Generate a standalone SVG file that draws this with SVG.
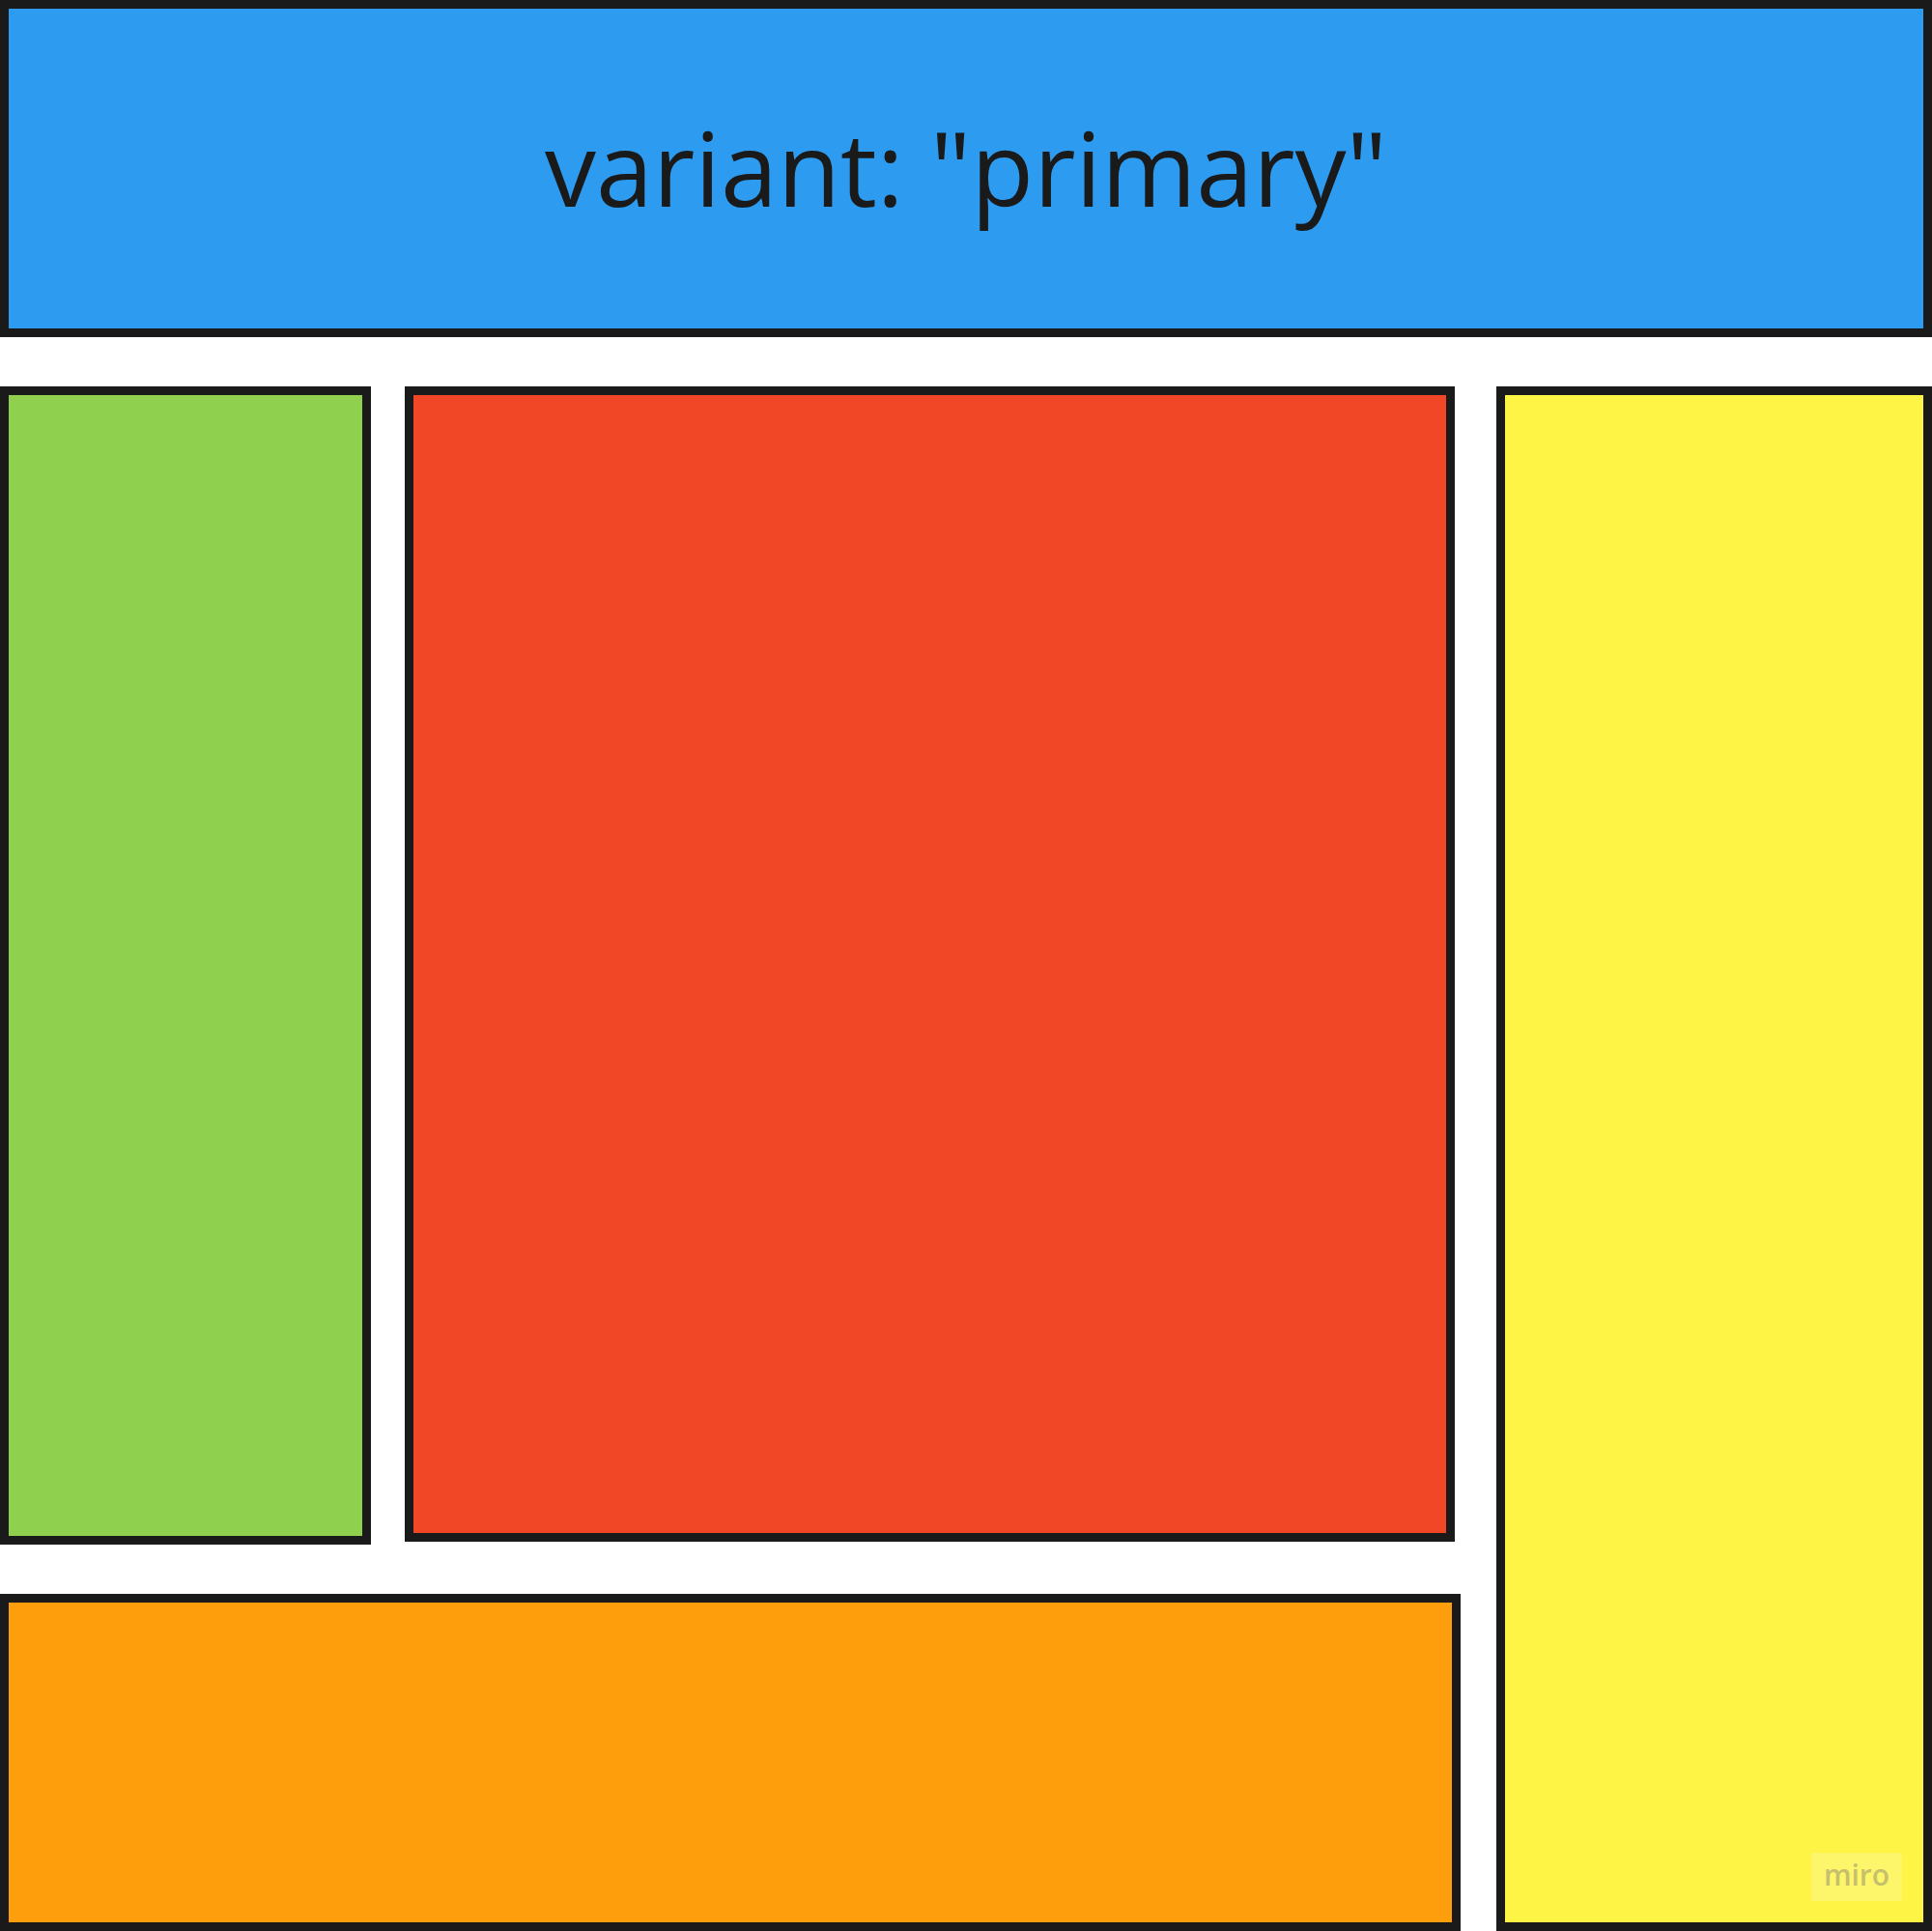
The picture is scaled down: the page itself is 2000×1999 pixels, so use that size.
<svg xmlns="http://www.w3.org/2000/svg" width="2000" height="1999" viewBox="0 0 2000 1999">
<style>
.box{stroke:#1a1a1a;stroke-width:9}
.label{font-family:"Open Sans","Noto Sans","Liberation Sans",sans-serif;font-size:106px;fill:#1a1a1a}
.logo{font-family:"Open Sans","Liberation Sans",sans-serif;font-weight:600;font-size:30px;fill:#c6bf6c}
</style>
<rect width="2000" height="1999" fill="#ffffff"/>
<g id="header">
<rect class="box" x="4.5" y="4.5" width="1991" height="340" fill="#2d9bf0"/>
<text class="label" x="1000" y="214" text-anchor="middle">variant: "primary"</text>
</g>
<g id="left">
<rect class="box" x="4.5" y="404.5" width="375" height="1190" fill="#8fd14f"/>
</g>
<g id="main">
<rect class="box" x="423.5" y="404.5" width="1078" height="1187" fill="#f24726"/>
</g>
<g id="right">
<rect class="box" x="1553.5" y="404.5" width="442" height="1590" fill="#fef445"/>
</g>
<g id="footer">
<rect class="box" x="4.5" y="1654.5" width="1503" height="340" fill="#ff9e0c"/>
</g>
<g id="connectors"></g>
<g id="watermark">
<rect x="1875" y="1918" width="94" height="50" fill="#ffffff" fill-opacity="0.2"/>
<text class="logo" x="1922" y="1952" text-anchor="middle">miro</text>
</g>
</svg>
